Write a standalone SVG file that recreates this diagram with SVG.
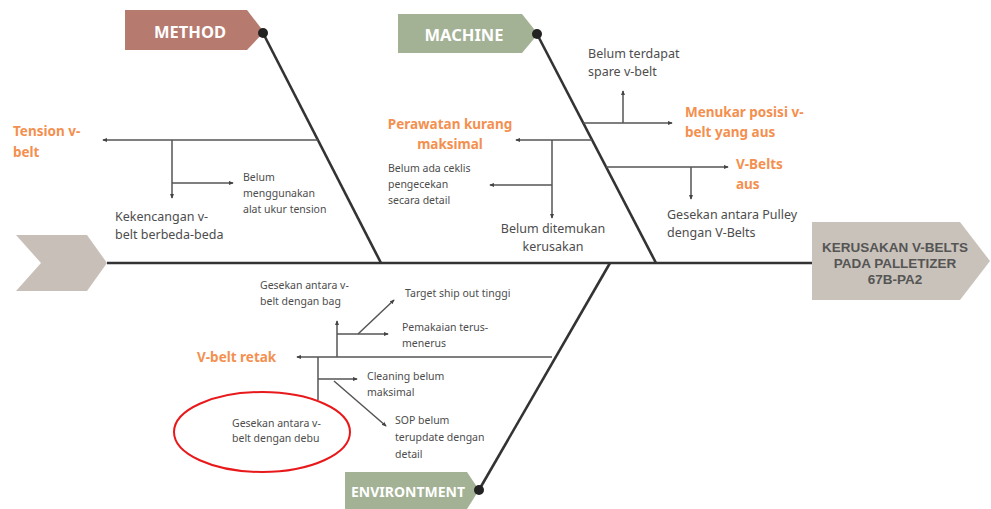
<svg xmlns="http://www.w3.org/2000/svg" width="991" height="509" viewBox="0 0 991 509">
<defs>
<marker id="ah" viewBox="0 0 6 6" refX="5" refY="3" markerWidth="5" markerHeight="5" orient="auto" markerUnits="userSpaceOnUse">
<path d="M0,0.5 L6,3 L0,5.5 z" fill="#444"/>
</marker>
<style>
.bone{stroke:#333;stroke-width:2.6;fill:none}
.br{stroke:#555;stroke-width:1.5;fill:none}
.arr{marker-end:url(#ah)}
.t{font-family:"Noto Sans","Open Sans",sans-serif;fill:#4d4d4d}
.s{font-size:10.5px}
.m{font-size:12.5px}
.o{font-family:"Noto Sans","Open Sans",sans-serif;fill:#f4904f;font-weight:bold;font-size:13.5px}
.lab{font-family:"Noto Sans","Open Sans",sans-serif;fill:#fff;font-weight:bold;font-size:16.5px;text-anchor:middle}
.lab.env{font-size:14px}
.hd{font-family:"Liberation Sans",Arial,sans-serif;fill:#555;font-weight:bold;font-size:13.5px;text-anchor:middle}
</style>
</defs>
<rect width="991" height="509" fill="#fff"/>

<g id="tail"><polygon points="16,235 87,235 107,263 87,291 16,291 41,263" fill="#c8c0b8"/></g>

<g id="head">
<polygon points="812,222 960,222 990,261 960,300 812,300" fill="#c9c2ba"/>
<text class="hd" x="895" y="252">KERUSAKAN V-BELTS</text>
<text class="hd" x="895" y="268">PADA PALLETIZER</text>
<text class="hd" x="895" y="284">67B-PA2</text>
</g>

<g id="method">
<polygon points="125,10 247,10 264,32 247,50 125,50" fill="#b77a6e"/>
<text class="lab" x="190" y="38">METHOD</text>
</g>
<g id="machine">
<polygon points="398,14 522,14 538,34 522,53 398,53" fill="#a3b195"/>
<text class="lab" x="464" y="41">MACHINE</text>
</g>
<g id="environtment">
<polygon points="345,472 467,472 479,490 467,509 345,509" fill="#a3b195"/>
<text class="lab env" x="408" y="497">ENVIRONTMENT</text>
</g>

<g id="connectors">
<line class="bone" x1="107" y1="263" x2="812" y2="263"/>
<line class="bone" x1="263" y1="33" x2="381" y2="263"/>
<line class="bone" x1="537" y1="34" x2="656" y2="263"/>
<line class="bone" x1="610" y1="263" x2="479" y2="490"/>
<circle cx="263" cy="33" r="5" fill="#222"/>
<circle cx="537" cy="34" r="5" fill="#222"/>
<circle cx="479" cy="490" r="5" fill="#222"/>

<line class="br arr" x1="318" y1="140" x2="103" y2="140"/>
<line class="br arr" x1="172" y1="140" x2="172" y2="198"/>
<line class="br arr" x1="172" y1="183" x2="233" y2="183"/>

<line class="br arr" x1="583" y1="123" x2="672" y2="123"/>
<line class="br arr" x1="623" y1="123" x2="623" y2="91"/>
<line class="br arr" x1="592" y1="140" x2="516" y2="140"/>
<line class="br arr" x1="552" y1="140" x2="552" y2="218"/>
<line class="br arr" x1="552" y1="185" x2="490" y2="185"/>
<line class="br arr" x1="606" y1="167" x2="728" y2="167"/>
<line class="br arr" x1="691" y1="167" x2="691" y2="199"/>

<line class="br arr" x1="552" y1="357" x2="297" y2="357"/>
<line class="br arr" x1="337" y1="357" x2="337" y2="321"/>
<line class="br arr" x1="337" y1="334" x2="388" y2="334"/>
<line class="br arr" x1="358" y1="334" x2="394" y2="300"/>
<line class="br" x1="318" y1="357" x2="318" y2="400"/>
<line class="br arr" x1="318" y1="379" x2="357" y2="379"/>
<line class="br arr" x1="334" y1="381" x2="386" y2="426"/>
</g>

<g id="tension">
<text class="o" x="13" y="136">Tension v-</text>
<text class="o" x="13" y="157">belt</text>
</g>
<g id="belum-alat">
<text class="t s" x="243" y="181">Belum</text>
<text class="t s" x="243" y="197">menggunakan</text>
<text class="t s" x="243" y="213">alat ukur tension</text>
</g>
<g id="kekencangan">
<text class="t m" x="115" y="221">Kekencangan v-</text>
<text class="t m" x="115" y="239">belt berbeda-beda</text>
</g>

<g id="perawatan">
<text class="o" x="450" y="129" text-anchor="middle">Perawatan kurang</text>
<text class="o" x="450" y="149" text-anchor="middle">maksimal</text>
</g>
<g id="ceklis">
<text class="t s" x="388" y="172">Belum ada ceklis</text>
<text class="t s" x="388" y="188">pengecekan</text>
<text class="t s" x="388" y="204">secara detail</text>
</g>
<g id="ditemukan">
<text class="t m" x="553" y="233" text-anchor="middle">Belum ditemukan</text>
<text class="t m" x="553" y="251" text-anchor="middle">kerusakan</text>
</g>
<g id="spare">
<text class="t m" x="588" y="58">Belum terdapat</text>
<text class="t m" x="588" y="76">spare v-belt</text>
</g>
<g id="menukar">
<text class="o" x="685" y="117">Menukar posisi v-</text>
<text class="o" x="685" y="137">belt yang aus</text>
</g>
<g id="vbelts-aus">
<text class="o" x="736" y="169">V-Belts</text>
<text class="o" x="736" y="189">aus</text>
</g>
<g id="pulley">
<text class="t m" x="667" y="219">Gesekan antara Pulley</text>
<text class="t m" x="667" y="237">dengan V-Belts</text>
</g>

<g id="vbelt-retak">
<text class="o" x="197" y="362">V-belt retak</text>
</g>
<g id="gesekan-bag">
<text class="t s" x="260" y="289">Gesekan antara v-</text>
<text class="t s" x="260" y="305">belt dengan bag</text>
</g>
<g id="target">
<text class="t s" x="405" y="297">Target ship out tinggi</text>
</g>
<g id="pemakaian">
<text class="t s" x="402" y="331">Pemakaian terus-</text>
<text class="t s" x="402" y="347">menerus</text>
</g>
<g id="cleaning">
<text class="t s" x="367" y="380">Cleaning belum</text>
<text class="t s" x="367" y="396">maksimal</text>
</g>
<g id="sop">
<text class="t s" x="395" y="424">SOP belum</text>
<text class="t s" x="395" y="441">terupdate dengan</text>
<text class="t s" x="395" y="458">detail</text>
</g>
<g id="gesekan-debu">
<ellipse cx="262" cy="432" rx="88" ry="40" fill="none" stroke="#e8191b" stroke-width="2"/>
<text class="t s" x="232" y="427">Gesekan antara v-</text>
<text class="t s" x="232" y="442">belt dengan debu</text>
</g>
</svg>
